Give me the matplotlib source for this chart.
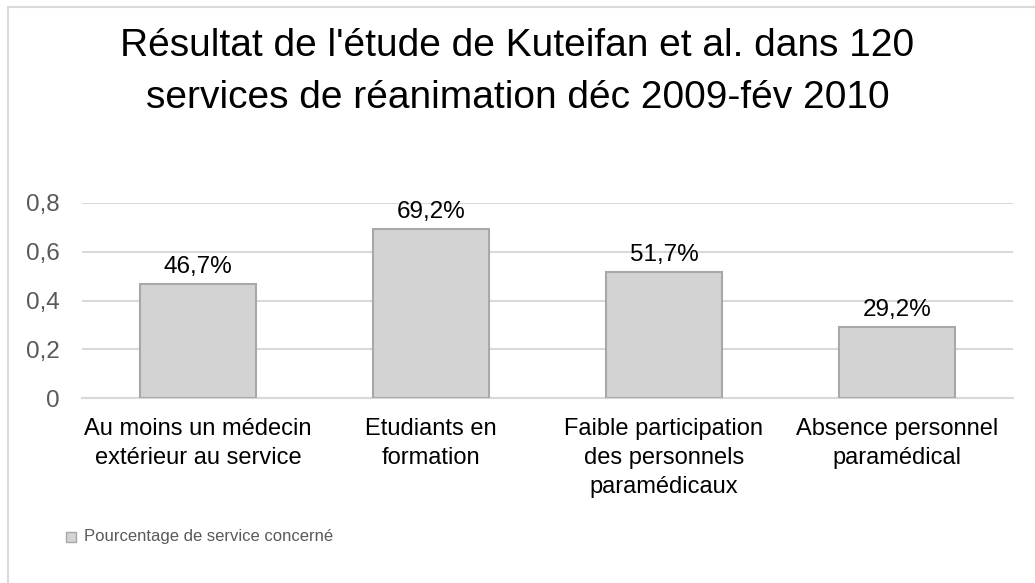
import numpy as np
import matplotlib.pyplot as plt
from matplotlib.patches import Rectangle

plt.rcParams['font.family'] = ['Liberation Sans', 'DejaVu Sans']

# data
categories = ['Au moins un médecin\nextérieur au service',
              'Etudiants en\nformation',
              'Faible participation\ndes personnels\nparamédicaux',
              'Absence personnel\nparamédical']
values = [0.467, 0.692, 0.517, 0.292]
labels = ['46,7%', '69,2%', '51,7%', '29,2%']
yticks = [0, 0.2, 0.4, 0.6, 0.8]
ytick_labels = ['0', '0,2', '0,4', '0,6', '0,8']

fig = plt.figure(figsize=(10.35, 5.83), dpi=100)
ax = fig.add_axes([0.079, 0.317, 0.9, 0.335])

x = np.arange(len(categories))
ax.bar(x, values, width=0.5, color='#d3d3d3', edgecolor='#a8a8a8', linewidth=1.5, zorder=3)
for xi, v, lab in zip(x, values, labels):
    ax.text(xi, v + 0.025, lab, ha='center', va='bottom', fontsize=17.5, color='black')

ax.set_xlim(-0.5, len(categories) - 0.5)
ax.set_ylim(0, 0.8)
ax.set_yticks(yticks)
ax.set_yticklabels(ytick_labels, fontsize=17.5, color='#595959')
ax.set_xticks(x)
ax.set_xticklabels(categories, fontsize=17, color='black', linespacing=1.42, va='top')
ax.tick_params(axis='both', length=0)
ax.tick_params(axis='y', pad=16)
ax.tick_params(axis='x', pad=14)
ax.grid(axis='y', color='#d9d9d9', linewidth=1.5, zorder=0)
for s in ['top', 'right', 'left']:
    ax.spines[s].set_visible(False)
ax.spines['bottom'].set_color('#d9d9d9')
ax.spines['bottom'].set_linewidth(1.5)

fig.text(0.5, 1 - 72 / 583, "Résultat de l'étude de Kuteifan et al. dans 120\nservices de réanimation déc 2009-fév 2010",
         ha='center', va='center', fontsize=28, linespacing=1.55)

# legend
fig.patches.append(Rectangle((66 / 1035, 1 - 542 / 583), 10 / 1035, 10 / 583,
                             transform=fig.transFigure, facecolor='#d3d3d3',
                             edgecolor='#a8a8a8', linewidth=1))
fig.text(84 / 1035, 1 - 537 / 583, 'Pourcentage de service concerné',
         ha='left', va='center', fontsize=12, color='#595959')

# outer frame
fig.patches.append(Rectangle((8 / 1035, -0.1), 1.2, 1 - 7 / 583 + 0.1,
                             transform=fig.transFigure, facecolor='none',
                             edgecolor='#d9d9d9', linewidth=1.5))

fig.savefig('out.png', dpi=100)
